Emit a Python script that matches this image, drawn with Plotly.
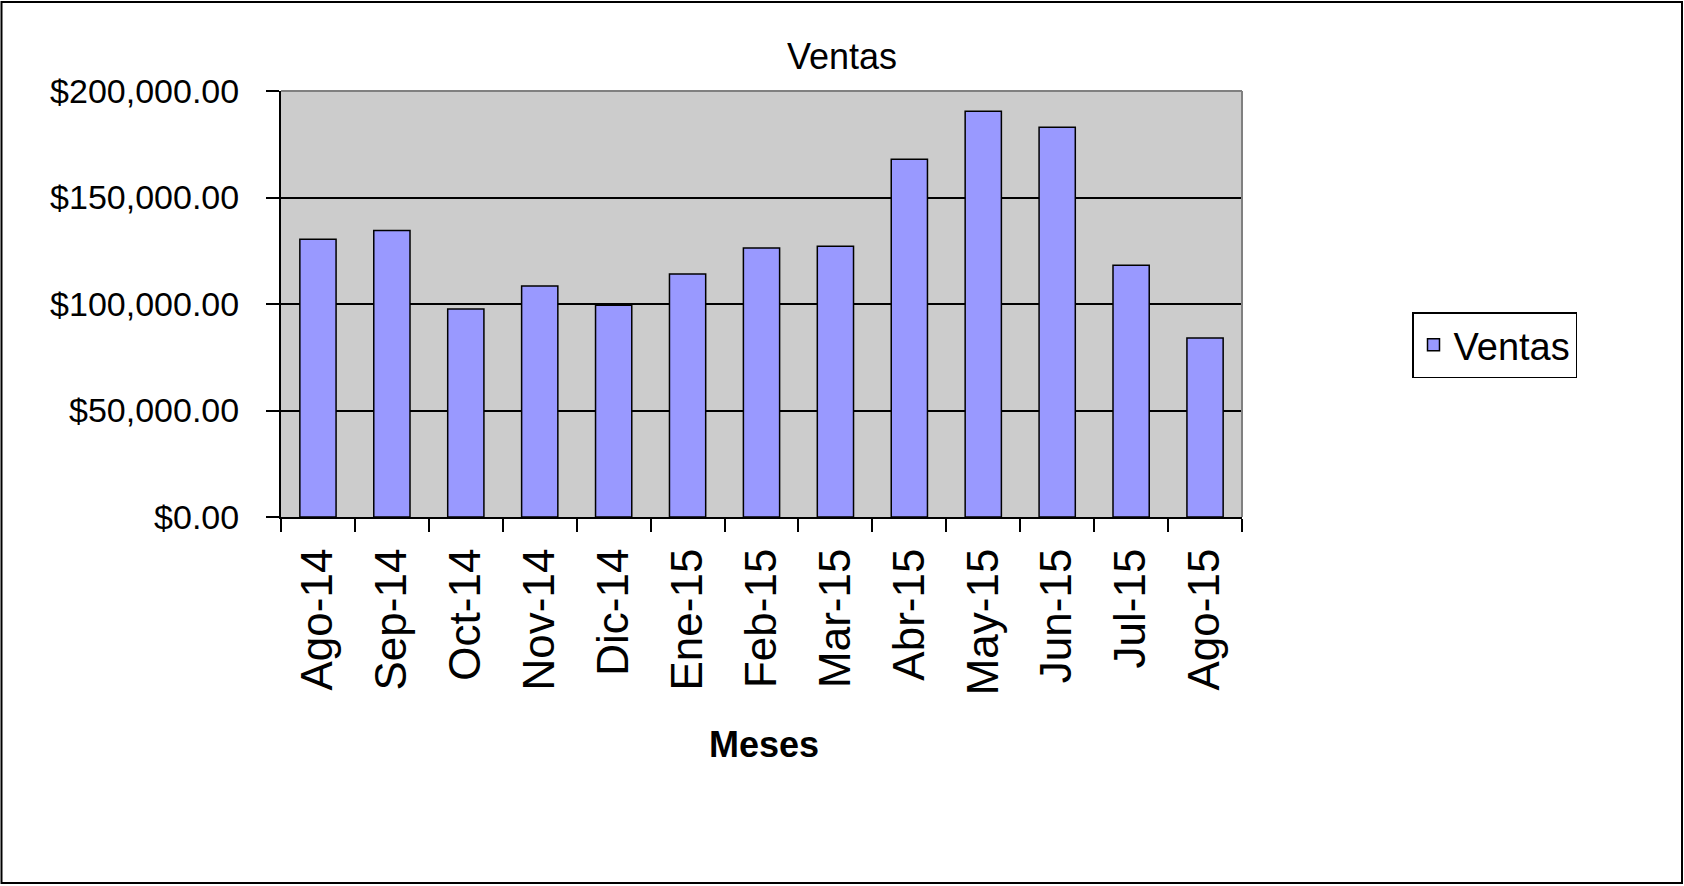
import plotly.graph_objects as go

meses = ["Ago-14", "Sep-14", "Oct-14", "Nov-14", "Dic-14", "Ene-15", "Feb-15",
         "Mar-15", "Abr-15", "May-15", "Jun-15", "Jul-15", "Ago-15"]
ventas = [130400, 134500, 97700, 108500, 99400, 114100, 126300,
          127100, 167900, 190500, 183000, 118200, 84000]
y_ticks = [0, 50000, 100000, 150000, 200000]
y_tick_labels = ["$0.00", "$50,000.00", "$100,000.00", "$150,000.00", "$200,000.00"]

W, H = 1684, 886
L, R, T, B = 281, 442, 91, 369
pw, ph = W - L - R, H - T - B

FONT = "Liberation Sans, Arial, sans-serif"

def px(x):
    return (x - L) / pw

def py(y):
    return (H - B - y) / ph

fig = go.Figure()
fig.add_trace(go.Bar(
    x=meses, y=ventas, name="Ventas",
    marker=dict(color="#9999FF", line=dict(color="black", width=1.5)),
    showlegend=True,
))

fig.update_layout(
    width=W, height=H,
    margin=dict(l=L, r=R, t=T, b=B, pad=0),
    paper_bgcolor="white",
    plot_bgcolor="#CCCCCC",
    bargap=0.51,
    title=dict(text="Ventas", x=0.5, xref="container", xanchor="center",
               y=1 - 56 / H, yref="container", yanchor="middle",
               font=dict(family=FONT, size=36, color="black")),
    xaxis=dict(
        type="category", tickangle=-90, ticks="outside", ticklen=13,
        tickcolor="black", tickwidth=1.5, tickson="boundaries",
        showline=True, linecolor="black", linewidth=2, showgrid=False,
        tickfont=dict(family=FONT, size=44, color="black"),
        ticklabelstandoff=12,
    ),
    yaxis=dict(
        range=[0, 200000], tickvals=y_ticks, ticktext=y_tick_labels,
        ticks="outside", ticklen=13, tickcolor="black", tickwidth=1.5,
        showline=True, linecolor="black", linewidth=2,
        showgrid=True, gridcolor="black", gridwidth=1.5, zeroline=False,
        tickfont=dict(family=FONT, size=34, color="black"),
        ticklabelstandoff=20,
    ),
    legend=dict(
        x=px(1412), y=py(312), xanchor="left", yanchor="top",
        bgcolor="white", bordercolor="black", borderwidth=1.5,
        font=dict(family=FONT, size=38, color="black"),
    ),
    annotations=[dict(
        text="<b>Meses</b>", xref="paper", yref="paper",
        x=px(764), y=py(744), xanchor="center", yanchor="middle",
        showarrow=False, font=dict(family=FONT, size=36, color="black"),
    )],
    shapes=[
        dict(type="line", xref="paper", yref="paper", x0=0, x1=1, y0=1, y1=1,
             line=dict(color="#808080", width=2), layer="above"),
        dict(type="line", xref="paper", yref="paper", x0=1, x1=1, y0=0, y1=1,
             line=dict(color="#808080", width=2), layer="above"),
        dict(type="rect", xref="paper", yref="paper",
             x0=px(1.5), x1=px(1682), y0=py(883), y1=py(2),
             line=dict(color="black", width=2), layer="above"),
    ],
)

fig.write_html("out.html", config={"displayModeBar": False},
               post_script="document.body.style.margin='0';")
